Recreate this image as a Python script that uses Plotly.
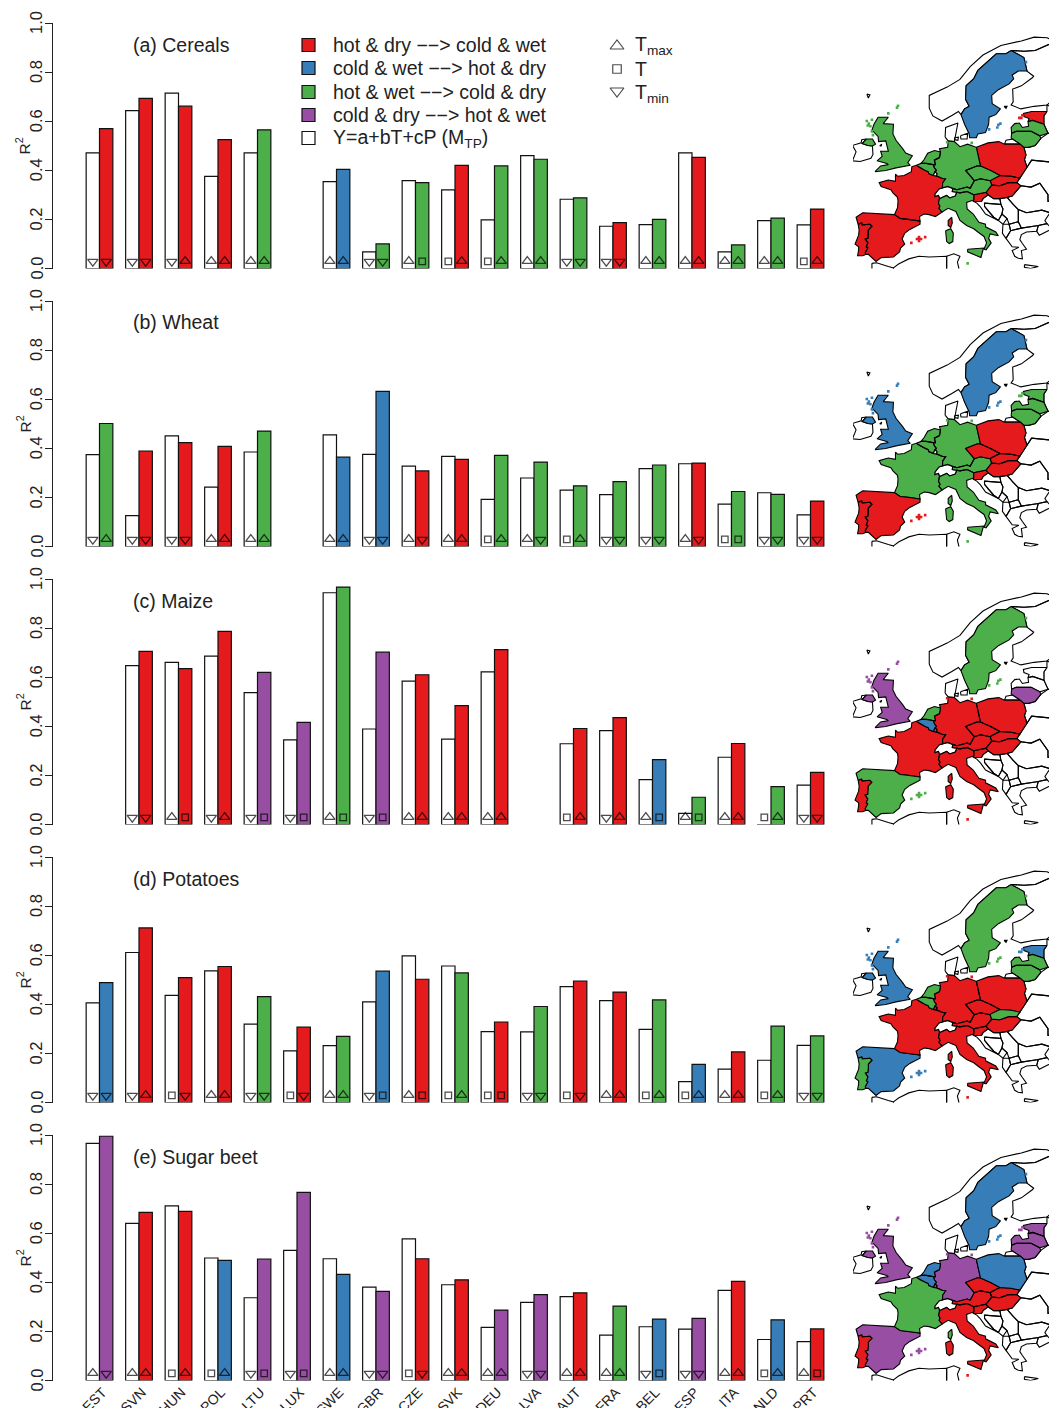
import plotly.graph_objects as go

# ---------------- data ----------------
COUNTRIES = ["EST","SVN","HUN","POL","LTU","LUX","SWE","GBR","CZE","SVK","DEU","LVA","AUT","FRA","BEL","ESP","ITA","NLD","PRT"]
PANEL_TITLES = ["(a) Cereals","(b) Wheat","(c) Maize","(d) Potatoes","(e) Sugar beet"]
Y_TICKS = [0,.2,.4,.6,.8,1]
Y_TICK_TEXT = ["0.0","0.2","0.4","0.6","0.8","1.0"]

MTP_A = [.471,.643,.714,.375,.471,None,.354,.068,.358,.32,.198,.46,.282,.172,.179,.471,.068,.195,.178]
BEST_A = [.57,.693,.661,.525,.565,None,.404,.1,.35,.42,.418,.445,.288,.187,.2,.453,.096,.205,.242]
REGIME_A = list("RRRRG-BGGRGGGRGRGGR")
SYM_WHITE_A = ["d","d","d","u","u","-","u","d","u","s","s","u","d","d","u","u","u","u","s"]
SYM_BEST_A  = ["d","d","u","u","u","-","u","d","s","u","u","u","d","d","u","u","u","u","u"]

MTP_B = [.374,.126,.451,.242,.385,None,.455,.375,.327,.367,.192,.279,.23,.211,.317,.337,.173,.219,.129]
BEST_B = [.501,.389,.423,.408,.47,None,.364,.632,.308,.355,.371,.344,.247,.264,.332,.34,.224,.212,.185]
REGIME_B = list("GRRRG-BBRRGGGGGRGGR")
SYM_WHITE_B = ["d","d","d","u","u","-","u","d","u","u","s","u","s","d","d","u","s","d","d"]
SYM_BEST_B  = ["u","d","d","u","u","-","u","d","d","u","u","d","u","d","d","d","s","d","d"]

MTP_C = [None,.647,.66,.686,.537,.345,.944,.389,.584,.348,.622,None,.329,.382,.183,.045,.274,-.004,.16]
BEST_C = [None,.705,.635,.787,.62,.416,.967,.702,.61,.484,.712,None,.391,.435,.264,.111,.33,.154,.212]
REGIME_C = list("-RRRPPGPRRR-RRBGRGR")
SYM_WHITE_C = ["-","d","u","d","d","d","u","d","u","u","u","-","s","d","u","u","u","s","d"]
SYM_BEST_C  = ["-","d","s","u","s","s","s","s","u","u","u","-","u","u","s","s","u","u","d"]

MTP_D = [.406,.611,.436,.536,.319,.21,.232,.41,.597,.556,.289,.288,.472,.415,.298,.085,.136,.172,.233]
BEST_D = [.488,.711,.509,.554,.431,.307,.269,.535,.502,.528,.328,.391,.495,.45,.418,.155,.206,.311,.271]
REGIME_D = list("BRRRGRGBRGRGRRGBRGG")
SYM_WHITE_D = ["d","d","s","u","d","s","u","d","u","s","s","d","s","u","s","s","u","s","d"]
SYM_BEST_D  = ["d","u","d","u","d","d","u","s","s","u","s","d","d","u","u","u","u","u","d"]

MTP_E = [.966,.64,.711,.499,.337,.53,.496,.38,.577,.39,.216,.318,.342,.185,.219,.209,.367,.167,.158]
BEST_E = [.995,.685,.689,.489,.495,.766,.432,.363,.496,.41,.287,.35,.357,.303,.25,.253,.404,.247,.21]
REGIME_E = list("PRRBPPBPRRPPRGBPRBR")
SYM_WHITE_E = ["u","u","s","s","d","d","u","d","s","u","u","d","u","u","d","d","u","s","u"]
SYM_BEST_E  = ["d","u","u","u","s","s","u","d","d","u","u","d","u","u","s","d","u","u","s"]

MTP = [MTP_A,MTP_B,MTP_C,MTP_D,MTP_E]
BEST = [BEST_A,BEST_B,BEST_C,BEST_D,BEST_E]
REGIME = [REGIME_A,REGIME_B,REGIME_C,REGIME_D,REGIME_E]
SYM_WHITE = [SYM_WHITE_A,SYM_WHITE_B,SYM_WHITE_C,SYM_WHITE_D,SYM_WHITE_E]
SYM_BEST = [SYM_BEST_A,SYM_BEST_B,SYM_BEST_C,SYM_BEST_D,SYM_BEST_E]

LEGEND_REGIMES = ["hot &amp; dry \u2212\u2212> cold &amp; wet","cold &amp; wet \u2212\u2212> hot &amp; dry","hot &amp; wet \u2212\u2212> cold &amp; dry","cold &amp; dry \u2212\u2212> hot &amp; wet","Y=a+bT+cP (M<sub>TP</sub>)"]
LEGEND_TEMPS = ["T<sub>max</sub>","T","T<sub>min</sub>"]

# country outlines as lon, lat
PRT = [(-8.9,41.9),(-8.2,42.1),(-8.1,41.8),(-6.6,41.9),(-6.2,41.6),(-6.9,41.0),(-6.9,40.3),(-7.0,39.7),(-7.5,39.6),(-7.0,39.0),(-7.3,38.4),(-7.0,38.2),(-7.5,37.5),(-7.4,37.2),(-8.0,37.0),(-9.0,37.0),(-8.8,37.9),(-8.8,38.4),(-9.5,38.8),(-9.3,39.3),(-8.8,40.2),(-8.7,41.0)]
ESP = [(-8.9,41.9),(-9.3,43.0),(-8.0,43.7),(-5.8,43.6),(-3.8,43.5),(-1.8,43.4),(-0.7,42.8),(0.7,42.7),(3.2,42.4),(3.2,41.9),(1.2,41.1),(0.2,40.5),(-0.3,39.6),(0.2,38.8),(-0.6,38.2),(-0.8,37.6),(-2.0,36.8),(-4.4,36.7),(-5.4,36.1),(-6.3,36.7),(-6.9,37.2),(-7.4,37.2),(-7.5,37.5),(-7.0,38.2),(-7.3,38.4),(-7.0,39.0),(-7.5,39.6),(-7.0,39.7),(-6.9,40.3),(-6.9,41.0),(-6.2,41.6),(-6.6,41.9),(-8.1,41.8),(-8.2,42.1)]
FRA = [(-1.8,43.4),(-1.2,44.5),(-1.1,45.5),(-1.2,46.1),(-2.1,46.8),(-2.5,47.3),(-4.4,47.8),(-4.8,48.4),(-3.0,48.8),(-1.6,48.6),(-1.6,49.7),(-1.2,49.4),(0.1,49.5),(1.5,50.1),(1.6,50.9),(2.5,51.1),(3.2,50.7),(4.2,50.3),(4.8,50.1),(4.9,49.8),(5.8,49.5),(6.4,49.45),(7.6,49.05),(8.2,49.0),(7.6,48.3),(7.6,47.6),(6.9,47.4),(6.1,46.6),(6.1,46.2),(6.8,46.4),(7.0,45.9),(6.8,45.2),(7.1,44.7),(6.9,44.4),(7.5,43.8),(6.2,43.1),(5.0,43.4),(4.0,43.5),(3.1,43.1),(3.2,42.4),(0.7,42.7),(-0.7,42.8)]
CORSICA = [(9.4,43.0),(9.5,42.1),(9.2,41.4),(8.7,41.7),(8.7,42.5)]
SARDINIA = [(8.2,40.9),(9.2,41.2),(9.7,40.5),(9.6,39.2),(8.9,38.9),(8.4,39.2)]
SICILY = [(12.5,38.0),(15.6,38.2),(15.1,36.7),(12.5,37.6)]
ITA = [(7.5,43.8),(8.7,44.4),(10.2,43.9),(11.0,42.5),(12.3,41.7),(13.7,41.2),(14.5,40.7),(15.7,40.0),(16.2,39.0),(15.7,38.0),(16.1,37.9),(17.1,39.0),(16.6,39.7),(16.9,40.4),(18.5,40.1),(18.0,40.7),(16.0,41.5),(16.0,41.9),(14.7,42.2),(13.6,43.5),(12.4,44.3),(12.3,45.3),(13.7,45.7),(13.7,46.5),(12.4,47.0),(11.0,46.8),(10.4,46.9),(10.1,46.3),(9.0,46.0),(8.4,46.4),(7.0,45.9),(6.8,45.2),(7.1,44.7),(6.9,44.4)]
CHE = [(6.1,46.2),(6.1,46.6),(6.9,47.4),(7.6,47.6),(8.6,47.8),(9.6,47.5),(9.5,47.0),(10.4,46.9),(10.1,46.3),(9.0,46.0),(8.4,46.4),(7.0,45.9),(6.8,46.4)]
BEL = [(2.5,51.1),(3.4,51.4),(4.4,51.4),(5.8,51.2),(6.0,50.7),(6.4,50.3),(6.1,50.1),(5.8,49.5),(4.9,49.8),(4.8,50.1),(4.2,50.3),(3.2,50.7)]
LUX = [(5.8,49.5),(6.1,50.1),(6.5,49.8),(6.4,49.45)]
NLD = [(3.4,51.4),(4.0,52.0),(4.7,53.0),(6.0,53.4),(7.2,53.2),(7.0,52.3),(6.0,51.9),(6.2,51.2),(5.8,51.2),(4.4,51.4)]
DEU = [(7.2,53.2),(7.0,53.7),(8.6,53.9),(8.7,54.9),(9.9,54.8),(11.0,54.0),(12.5,54.4),(14.2,53.9),(14.4,53.2),(14.7,52.1),(15.0,51.0),(14.3,51.0),(12.1,50.3),(13.8,48.7),(13.0,47.5),(12.4,47.7),(10.4,47.3),(9.6,47.5),(8.6,47.8),(7.6,47.6),(7.6,48.3),(8.2,49.0),(7.6,49.05),(6.4,49.45),(6.5,49.8),(6.1,50.1),(6.4,50.3),(6.0,50.7),(5.8,51.2),(6.2,51.2),(6.0,51.9),(7.0,52.3)]
POL = [(14.2,53.9),(16.5,54.6),(18.6,54.8),(19.7,54.4),(22.8,54.4),(23.5,53.9),(23.9,52.7),(23.6,52.0),(24.1,50.8),(22.7,49.1),(21.0,49.4),(19.5,49.5),(18.8,49.5),(17.0,50.3),(15.0,51.0),(14.7,52.1),(14.4,53.2)]
CZE = [(12.1,50.3),(14.3,51.0),(15.0,51.0),(17.0,50.3),(18.8,49.5),(17.2,48.9),(16.9,48.7),(15.0,49.0),(13.8,48.7)]
SVK = [(16.9,48.7),(17.2,48.9),(18.8,49.5),(19.5,49.5),(21.0,49.4),(22.7,49.1),(22.1,48.4),(20.5,48.4),(18.8,47.9),(17.2,48.0)]
AUT = [(9.6,47.5),(10.4,47.3),(12.4,47.7),(13.0,47.5),(13.8,48.7),(15.0,49.0),(16.9,48.7),(17.2,48.0),(16.1,46.9),(13.7,46.5),(12.4,47.0),(11.0,46.8),(10.4,46.9),(9.5,47.0)]
HUN = [(17.2,48.0),(18.8,47.9),(20.5,48.4),(22.1,48.4),(22.9,47.9),(21.2,46.3),(20.2,46.1),(18.8,45.9),(17.6,45.9),(16.5,46.5),(16.1,46.9)]
SVN = [(13.7,46.5),(16.1,46.9),(16.5,46.5),(15.5,45.9),(15.2,45.45),(13.6,45.5),(13.7,45.7)]
HRV = [(13.6,45.5),(15.2,45.45),(15.5,45.9),(16.5,46.5),(17.6,45.9),(18.8,45.9),(19.0,45.0),(15.8,45.2),(15.8,44.7),(16.5,44.0),(17.6,43.0),(18.5,42.5),(16.0,43.5),(15.0,44.6),(14.3,45.2)]
BIH = [(15.8,45.2),(19.0,45.0),(19.4,44.3),(19.2,43.5),(18.5,42.5),(17.6,43.0),(16.5,44.0),(15.8,44.7)]
SRB = [(18.8,45.9),(20.2,46.1),(21.4,45.0),(22.4,44.2),(22.4,43.0),(22.4,42.3),(20.6,41.9),(20.2,42.8),(19.2,43.5),(19.4,44.3),(19.0,45.0)]
MNE = [(18.5,42.5),(19.4,41.9),(20.2,42.8),(19.2,43.5)]
ALB = [(19.4,41.9),(20.6,41.9),(20.9,40.9),(20.0,39.7),(19.3,40.5)]
MKD = [(20.6,41.9),(22.4,42.3),(23.0,41.3),(20.9,40.9)]
GRC = [(20.0,39.7),(20.9,40.9),(23.0,41.3),(26.3,41.7),(26.0,40.8),(24.0,40.7),(23.0,40.3),(22.7,39.5),(23.2,38.9),(24.0,38.0),(23.0,37.8),(23.2,36.5),(22.4,36.6),(21.7,36.9),(21.2,37.8),(22.5,38.3),(21.2,38.4),(20.7,38.9)]
BGR = [(22.4,44.2),(24.0,43.7),(27.0,44.1),(28.6,43.7),(27.6,42.5),(28.0,42.0),(26.3,41.7),(23.0,41.3),(22.4,42.3),(22.4,43.0)]
ROU = [(22.9,47.9),(24.9,47.7),(26.6,48.3),(28.2,46.5),(28.2,45.5),(29.7,45.2),(28.6,43.7),(27.0,44.1),(24.0,43.7),(22.4,44.2),(21.4,45.0),(20.2,46.1),(21.2,46.3)]
UKR = [(22.7,49.1),(24.1,50.8),(25.0,51.9),(30.0,51.5),(30.0,46.0),(28.2,45.5),(28.2,46.5),(26.6,48.3),(24.9,47.7),(22.9,47.9),(22.1,48.4)]
BLR = [(23.6,52.0),(23.9,52.7),(23.5,53.9),(24.4,53.9),(25.7,54.2),(26.8,55.3),(28.2,56.1),(30.0,55.9),(30.0,51.5),(25.0,51.9),(24.1,50.8)]
LTU = [(21.0,55.3),(21.1,56.1),(22.0,56.4),(24.9,56.4),(26.6,55.7),(26.8,55.3),(25.7,54.2),(24.4,53.9),(23.5,53.9),(22.8,54.4),(21.3,55.2)]
LVA = [(21.1,56.1),(21.0,57.0),(21.7,57.6),(22.6,57.7),(23.2,57.0),(24.4,57.2),(24.3,57.9),(25.2,58.1),(27.4,57.5),(28.2,56.1),(26.6,55.7),(24.9,56.4),(22.0,56.4)]
EST = [(24.3,57.9),(24.5,58.4),(23.5,58.7),(23.4,59.2),(25.0,59.5),(28.0,59.5),(27.4,58.8),(27.4,57.5),(25.2,58.1)]
KGD = [(19.7,54.4),(20.0,55.0),(21.3,55.2),(22.8,54.4)]
RUS = [(28.0,59.5),(27.4,58.8),(27.4,57.5),(28.2,56.1),(32.0,56.0),(32.0,60.0),(30.0,59.9),(28.0,60.5)]
SWE = [(11.2,59.0),(11.9,57.5),(12.8,56.0),(12.9,55.4),(14.2,55.4),(14.5,56.0),(16.0,56.2),(16.6,57.5),(16.7,58.6),(18.0,59.0),(18.9,59.9),(17.3,60.7),(17.2,62.0),(18.5,62.9),(20.6,63.8),(21.5,64.6),(21.2,65.2),(22.4,65.8),(24.1,65.8),(23.7,67.0),(23.5,67.9),(21.0,69.0),(20.0,68.5),(18.1,68.5),(16.0,67.0),(14.5,65.9),(13.7,64.6),(12.2,63.5),(12.1,61.4),(12.8,60.3),(11.9,59.9)]
NOR = [(11.2,59.0),(11.9,59.9),(12.8,60.3),(12.1,61.4),(12.2,63.5),(13.7,64.6),(14.5,65.9),(16.0,67.0),(18.1,68.5),(20.0,68.5),(21.0,69.0),(23.5,68.9),(25.7,69.0),(28.5,70.0),(31.0,70.0),(28.0,71.0),(25.5,71.1),(23.0,70.5),(19.0,69.8),(15.5,68.3),(13.0,66.5),(11.0,64.5),(8.5,63.3),(5.0,62.0),(5.0,60.0),(5.7,58.8),(7.5,58.0),(9.5,58.9),(10.7,59.5)]
FIN = [(23.5,67.9),(23.7,67.0),(24.1,65.8),(25.4,65.0),(25.2,64.8),(23.0,63.5),(21.3,63.0),(21.4,61.0),(21.0,60.5),(22.9,59.9),(25.5,60.3),(28.0,60.5),(31.0,62.5),(30.0,65.0),(29.0,69.0),(28.5,70.0),(25.7,69.0),(23.5,68.9),(21.0,69.0)]
JUTLAND = [(8.1,55.5),(8.2,57.0),(10.6,57.7),(10.3,56.5),(9.9,55.0),(9.9,54.8),(8.7,54.9)]
ZEALAND = [(11.1,55.7),(12.5,56.1),(12.4,55.2),(11.2,55.2)]
FUNEN = [(9.9,55.4),(10.7,55.5),(10.6,55.0),(10.0,55.1)]
GBR = [(-5.6,50.1),(-3.5,50.3),(-1.5,50.7),(1.3,51.1),(0.8,51.5),(1.7,52.6),(0.4,53.0),(-0.2,53.7),(-1.5,55.0),(-2.1,56.0),(-2.0,57.5),(-4.0,57.6),(-3.0,58.6),(-5.0,58.6),(-5.8,57.5),(-6.2,56.6),(-5.0,55.6),(-4.9,54.8),(-3.5,54.9),(-3.2,53.9),(-3.0,53.3),(-4.5,53.3),(-4.2,52.5),(-5.2,51.8),(-3.3,51.4),(-3.0,51.2),(-4.5,51.0)]
NIRL = [(-6.1,54.1),(-5.5,54.4),(-6.1,55.2),(-7.3,55.2),(-8.1,54.5),(-7.0,54.2)]
IRL = [(-6.1,54.1),(-6.0,52.8),(-6.4,52.2),(-8.5,51.7),(-10.0,51.8),(-9.3,53.2),(-10.0,54.2),(-8.3,54.6),(-8.2,55.1),(-7.3,55.2),(-8.1,54.5),(-7.0,54.2)]
MAN = [(-4.7,54.1),(-4.3,54.4),(-4.4,54.1)]
FAROE = [(-7.2,62.2),(-6.6,62.1),(-6.9,61.6)]
ALAND = [(19.6,60.3),(20.2,60.3),(20.0,60.0)]
CRETE = [(23.6,35.6),(26.3,35.3),(24.8,35.0),(23.6,35.2)]
TUR = [(26.3,41.7),(28.0,42.0),(29.0,41.2),(26.5,40.2),(26.0,40.8)]
MAR = [(-6.2,35.8),(-5.3,35.9),(-3.0,35.3),(-2.0,35.1),(-2.0,33.0),(-6.2,33.0)]
DZA = [(-2.0,35.1),(-1.0,35.7),(1.0,36.5),(3.0,36.9),(5.0,36.8),(8.4,36.9),(8.4,33.0),(-2.0,33.0)]
TUN = [(8.4,36.9),(9.8,37.3),(11.0,36.9),(10.5,36.0),(10.8,35.0),(10.0,33.0),(8.4,33.0)]

COUNTRY_SHAPES = {"PRT":[PRT],"ESP":[ESP],"FRA":[FRA,CORSICA],"ITA":[ITA,SARDINIA,SICILY],"BEL":[BEL],"LUX":[LUX],"NLD":[NLD],"DEU":[DEU],"POL":[POL],"CZE":[CZE],"SVK":[SVK],"AUT":[AUT],"HUN":[HUN],"SVN":[SVN],"LTU":[LTU],"LVA":[LVA],"EST":[EST],"SWE":[SWE],"GBR":[GBR,NIRL]}
OTHER_SHAPES = [CHE,HRV,BIH,SRB,MNE,ALB,MKD,GRC,BGR,ROU,UKR,BLR,KGD,RUS,NOR,FIN,JUTLAND,ZEALAND,FUNEN,IRL,MAN,FAROE,ALAND,CRETE,TUR,MAR,DZA,TUN]

# climate grid cells lying off the outlines (lon, lat)
CELLS = {
 "GBR":[(-1.1,60.4),(-1.3,60.1),(-3.0,59.2),(-7.2,58.0),(-6.8,57.6),(-6.5,57.2),(-7.0,57.3),(-6.2,58.2),(-6.0,55.8),(-6.2,56.4)],
 "ESP":[(3.0,39.6),(2.6,39.6),(3.4,39.6),(3.0,39.9),(3.0,39.3),(4.2,39.9),(1.5,39.0)],
 "SWE":[(18.9,57.6),(18.5,57.4),(18.3,57.0),(16.7,56.7),(23.9,67.2)],
 "EST":[(22.6,58.5),(23.0,58.5),(23.2,58.9)],
 "ITA":[(12.5,35.8)],
 "DEU":[(8.5,54.7),(13.3,54.6)],
}

COLOURS = {"R":"#E41A1C","B":"#377EB8","G":"#4DAF4A","P":"#984EA3"}
SYMBOLS = {"u":"triangle-up-open","s":"square-open","d":"triangle-down-open"}
MARK_Y = {"u":0.03,"s":0.029,"d":0.028}
MARK_SIZE = {"u":9,"s":6.5,"d":9}

W,H = 1049,1408
PANEL_BOTTOM = [268.5,546.5,824.5,1102.5,1380.5]
PANEL_H = 245.5
LINE = "#222"
FONT = "Liberation Sans, Arial, sans-serif"
OFF = 0.169

fig = go.Figure()
layout = dict(width=W,height=H,margin=dict(l=0,r=0,t=0,b=0,pad=0),paper_bgcolor="white",plot_bgcolor="rgba(0,0,0,0)",
              showlegend=False,font=dict(family=FONT,color="#111"),autosize=False,hovermode=False,template=None)
annots = []

def xs(v): return v/W
def ys(v): return 1-v/H

for p in range(5):
    bot = PANEL_BOTTOM[p]
    dom_y = [ys(bot),ys(bot-PANEL_H)]
    ax = 2*p+1
    mx = 2*p+2
    xa,ya = f"x{ax}",f"y{ax}"
    pos_w = [i-OFF for i,v in enumerate(MTP[p]) if v is not None]
    val_w = [v for v in MTP[p] if v is not None]
    pos_b = [i+OFF for i,v in enumerate(BEST[p]) if v is not None]
    val_b = [v for v in BEST[p] if v is not None]
    col_b = [COLOURS[r] for r in REGIME[p] if r!="-"]
    fig.add_trace(go.Bar(x=pos_w,y=val_w,width=0.338,marker=dict(color="white",line=dict(color="#111",width=1.2)),xaxis=xa,yaxis=ya,cliponaxis=False))
    fig.add_trace(go.Bar(x=pos_b,y=val_b,width=0.338,marker=dict(color=col_b,line=dict(color="#111",width=1.2)),xaxis=xa,yaxis=ya,cliponaxis=False))
    sx,sy,ss,sz = [],[],[],[]
    for i in range(19):
        for off,s in ((-OFF,SYM_WHITE[p][i]),(OFF,SYM_BEST[p][i])):
            if s!="-":
                sx.append(i+off); sy.append(MARK_Y[s]); ss.append(SYMBOLS[s]); sz.append(MARK_SIZE[s])
    fig.add_trace(go.Scatter(x=sx,y=sy,mode="markers",marker=dict(symbol=ss,size=sz,color="black",line=dict(width=1.3,color="black")),xaxis=xa,yaxis=ya))
    layout[f"xaxis{ax}"] = dict(domain=[xs(53),xs(845)],range=[(53-99.5)/39.5,(845-99.5)/39.5],anchor=ya,showgrid=False,zeroline=False,automargin=False,
        showline=False,ticks="",tickmode="array",tickvals=list(range(19)) if p==4 else [],ticktext=COUNTRIES if p==4 else [],tickangle=-45,ticklabelshift=3,tickfont=dict(size=14,color="#222"))
    layout[f"yaxis{ax}"] = dict(domain=dom_y,range=[0,1],anchor=xa,showgrid=False,zeroline=False,showline=True,linecolor=LINE,linewidth=1.2,automargin=False,
        ticks="outside",ticklen=7,tickwidth=1.2,tickcolor=LINE,tickmode="array",tickvals=Y_TICKS,showticklabels=False)
    for v,t in zip(Y_TICKS,Y_TICK_TEXT):
        annots.append(dict(text=t,xref="paper",yref=ya,x=xs(36),y=v,showarrow=False,textangle=-90,font=dict(size=16.5,color="#222"),xanchor="center",yanchor="middle"))
    annots.append(dict(text="R<sup>2</sup>",xref="paper",yref="paper",x=xs(24),y=ys(bot-122),showarrow=False,textangle=-90,font=dict(size=15.5,color="#222"),xanchor="center",yanchor="middle"))
    annots.append(dict(text=PANEL_TITLES[p],xref="paper",yref="paper",x=xs(130.5),y=ys(bot-224),showarrow=False,font=dict(size=19.5,color="#222"),xanchor="left",yanchor="middle"))

    xm,ym = f"x{mx}",f"y{mx}"
    def add_group(shapes,fill):
        lon,lat = [],[]
        for poly in shapes:
            lon += [c[0] for c in poly]+[poly[0][0],None]
            lat += [c[1] for c in poly]+[poly[0][1],None]
        fig.add_trace(go.Scatter(x=lon,y=lat,mode="lines",fill="toself",fillcolor=fill,line=dict(color="black",width=1.1),xaxis=xm,yaxis=ym))
    add_group(OTHER_SHAPES,"white")
    groups = {}
    for i,c in enumerate(COUNTRIES):
        r = REGIME[p][i]
        groups.setdefault(COLOURS[r] if r!="-" else "white",[]).extend(COUNTRY_SHAPES[c])
    for fill,shapes in groups.items():
        add_group(shapes,fill)
    cx,cy,cc = [],[],[]
    for c,cells in CELLS.items():
        r = REGIME[p][COUNTRIES.index(c)]
        if r=="-": continue
        for lo,la in cells:
            cx.append(lo); cy.append(la); cc.append(COLOURS[r])
    fig.add_trace(go.Scatter(x=cx,y=cy,mode="markers",marker=dict(symbol="square",size=2.6,color=cc,line=dict(width=0)),xaxis=xm,yaxis=ym))
    layout[f"xaxis{mx}"] = dict(domain=[xs(853),1],range=[-9.9,28.4],anchor=ym,visible=False,automargin=False)
    layout[f"yaxis{mx}"] = dict(domain=dom_y,range=[35.0,73.3],anchor=xm,visible=False,automargin=False)

# legend drawn on a page-wide pixel axis
LEG_Y = [45,68,92,115,138]
TEMP_Y = [45,69,93]
fig.add_trace(go.Scatter(x=[308.5]*5,y=LEG_Y,mode="markers",xaxis="x11",yaxis="y11",
    marker=dict(symbol="square",size=13,color=[COLOURS["R"],COLOURS["B"],COLOURS["G"],COLOURS["P"],"white"],line=dict(color="#111",width=1.2))))
fig.add_trace(go.Scatter(x=[617]*3,y=[46,69,91],mode="markers",xaxis="x11",yaxis="y11",
    marker=dict(symbol=["triangle-up-open","square-open","triangle-down-open"],size=[12,8.5,12],color="black",line=dict(width=1.2,color="black"))))
layout["xaxis11"] = dict(domain=[0,1],range=[0,W],anchor="y11",visible=False,automargin=False)
layout["yaxis11"] = dict(domain=[0,1],range=[H,0],anchor="x11",visible=False,automargin=False)
for t,y in zip(LEGEND_REGIMES,LEG_Y):
    annots.append(dict(text=t,xref="x11",yref="y11",x=331,y=y,showarrow=False,xanchor="left",yanchor="middle",font=dict(size=19.5,color="#222")))
for t,y in zip(LEGEND_TEMPS,TEMP_Y):
    annots.append(dict(text=t,xref="x11",yref="y11",x=633,y=y,showarrow=False,xanchor="left",yanchor="middle",font=dict(size=19.5,color="#222")))

layout["annotations"] = annots
fig.update_layout(**layout)
fig.write_html("out.html",config={"displayModeBar":False},post_script="document.body.style.margin='0';")
